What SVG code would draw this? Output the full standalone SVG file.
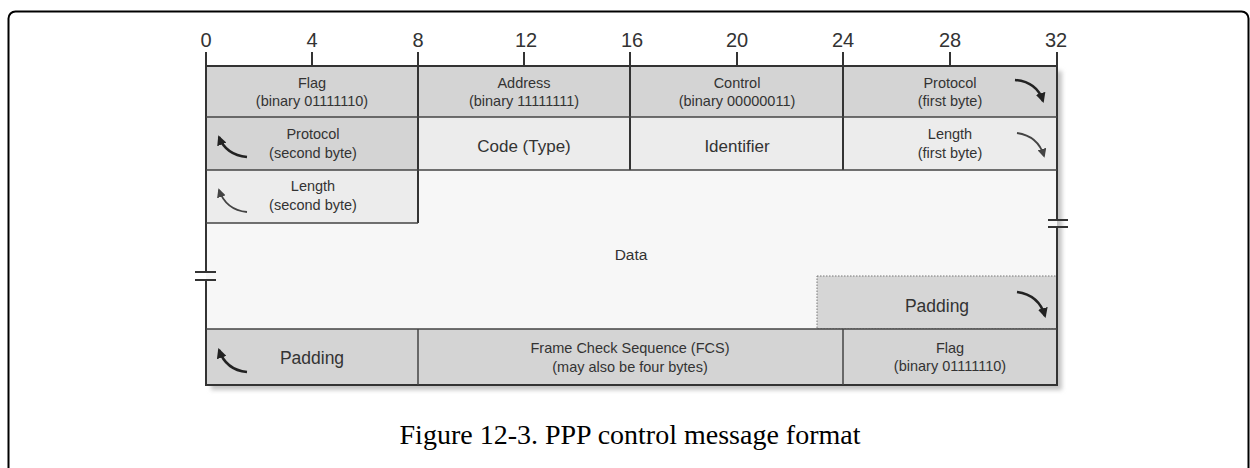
<svg xmlns="http://www.w3.org/2000/svg" width="1250" height="468" viewBox="0 0 1250 468">
<style>
.t{font-family:"Liberation Sans",Arial,sans-serif;fill:#333;text-anchor:middle}
.s{font-size:14.5px}
.m{font-size:17px}
.n{font-family:"Liberation Sans",Arial,sans-serif;font-size:20px;fill:#333;text-anchor:middle}
.ln{stroke:#333;stroke-width:2;fill:none}
.thin{stroke:#444;stroke-width:1.5;fill:none}
.arr{stroke:#222;stroke-width:2.5;fill:none;marker-end:url(#ah)}
.arrl{stroke:#444;stroke-width:1.8;fill:none;marker-end:url(#ah2)}
.g{fill:#d4d4d4}
.l{fill:#ececec}
</style>
<defs>
<marker id="ah" viewBox="0 0 10 10" refX="8" refY="5" markerWidth="4" markerHeight="4" orient="auto" markerUnits="strokeWidth">
<path d="M0,0 L10,5 L0,10 z" fill="#222"/>
</marker>
<marker id="ah2" viewBox="0 0 10 10" refX="8" refY="5" markerWidth="5" markerHeight="5" orient="auto" markerUnits="strokeWidth">
<path d="M0,0 L10,5 L0,10 z" fill="#444"/>
</marker>
<filter id="blur" x="-5%" y="-5%" width="110%" height="110%"><feGaussianBlur stdDeviation="2"/></filter>
</defs>
<rect x="8.5" y="11.5" width="1240" height="520" rx="7" fill="#fff" stroke="#000" stroke-width="2"/>
<!-- shadow -->
<rect x="211" y="71" width="851" height="319" fill="#c4c4c4" filter="url(#blur)"/>
<!-- backgrounds -->
<rect x="206" y="66" width="851" height="319" fill="#f7f7f7"/>
<g id="flag1"><rect class="g" x="206" y="66" width="212" height="51"/>
<text class="t s" x="312" y="88">Flag</text><text class="t s" x="312" y="106">(binary 01111110)</text></g>
<g id="address"><rect class="g" x="418" y="66" width="212" height="51"/>
<text class="t s" x="524" y="88">Address</text><text class="t s" x="524" y="106">(binary 11111111)</text></g>
<g id="control"><rect class="g" x="630" y="66" width="213" height="51"/>
<text class="t s" x="737" y="88">Control</text><text class="t s" x="737" y="106">(binary 00000011)</text></g>
<g id="proto1"><rect class="g" x="843" y="66" width="214" height="51"/>
<text class="t s" x="950" y="88">Protocol</text><text class="t s" x="950" y="106">(first byte)</text>
<path class="arr" d="M1015,80 Q1037,82 1043,101"/></g>
<g id="proto2"><rect class="g" x="206" y="117" width="212" height="53"/>
<text class="t s" x="313" y="139">Protocol</text><text class="t s" x="313" y="158">(second byte)</text>
<path class="arr" d="M247,157 Q226,155 219,137"/></g>
<g id="code"><rect class="l" x="418" y="117" width="212" height="53"/>
<text class="t m" x="524" y="152">Code (Type)</text></g>
<g id="ident"><rect class="l" x="630" y="117" width="213" height="53"/>
<text class="t m" x="737" y="152">Identifier</text></g>
<g id="len1"><rect class="l" x="843" y="117" width="214" height="53"/>
<text class="t s" x="950" y="139">Length</text><text class="t s" x="950" y="158">(first byte)</text>
<path class="arrl" d="M1017,133 Q1038,136 1044,156"/></g>
<g id="len2"><rect class="l" x="206" y="170" width="212" height="53"/>
<text class="t s" x="313" y="191">Length</text><text class="t s" x="313" y="210">(second byte)</text>
<path class="arrl" d="M247,212 Q226,210 219,190"/></g>
<g id="data"><text class="t" x="631" y="260" style="font-size:15.5px">Data</text></g>
<g id="pad1"><rect x="817" y="276" width="240" height="53" fill="#d6d6d6" stroke="#777" stroke-width="1" stroke-dasharray="1.5,1.5"/>
<text class="t m" x="937" y="312" style="font-size:17.5px">Padding</text>
<path class="arr" d="M1017,292 Q1039,295 1045,316"/></g>
<g id="pad2"><rect class="g" x="206" y="329" width="212" height="56"/>
<text class="t m" x="312" y="364" style="font-size:17.5px">Padding</text>
<path class="arr" d="M247,372 Q226,370 219,350"/></g>
<g id="fcs"><rect class="g" x="418" y="329" width="425" height="56"/>
<text class="t s" x="630" y="353">Frame Check Sequence (FCS)</text><text class="t s" x="630" y="372">(may also be four bytes)</text></g>
<g id="flag2"><rect class="g" x="843" y="329" width="214" height="56"/>
<text class="t s" x="950" y="353">Flag</text><text class="t s" x="950" y="371">(binary 01111110)</text></g>
<!-- grid lines -->
<g id="lines">
<path class="ln" d="M206,52 V272 M206,281 V385 H1057 V227 M1057,220 V52"/>
<path class="ln" d="M206,66 H1057"/>
<path class="ln" d="M418,52 V223 M630,52 V170 M843,52 V170 M312,52 V66 M524,52 V66 M737,52 V66 M950,52 V66"/>
<path class="thin" d="M206,117 H1057 M206,170 H1057 M206,223 H418 M206,329 H1057 M418,329 V385 M843,329 V385"/>
<path class="ln" d="M195,272 H216 M195,280 H216 M1048,220 H1068 M1048,227 H1068"/>
</g>
<g id="scale">
<text class="n" x="206" y="47">0</text><text class="n" x="312" y="47">4</text><text class="n" x="418" y="47">8</text>
<text class="n" x="526" y="47">12</text><text class="n" x="632" y="47">16</text><text class="n" x="737" y="47">20</text>
<text class="n" x="843" y="47">24</text><text class="n" x="950" y="47">28</text><text class="n" x="1056" y="47">32</text>
</g>
<text x="630" y="444" style="font-family:'Liberation Serif','Times New Roman',serif;font-size:28px;fill:#000;text-anchor:middle">Figure 12-3. PPP control message format</text>
</svg>
